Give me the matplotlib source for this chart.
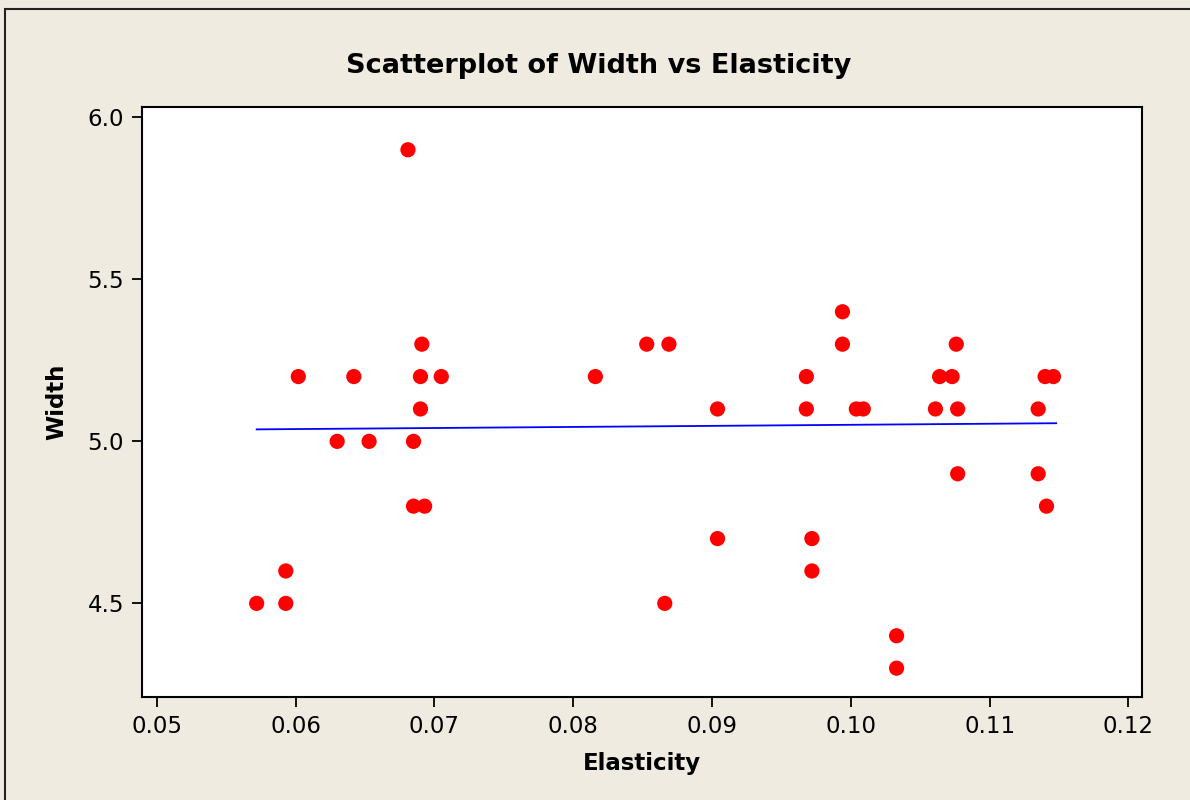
import numpy as np
import matplotlib.pyplot as plt
from matplotlib.patches import Rectangle

# Elasticity / Width values
elasticity = [0.0572, 0.0593, 0.0593, 0.0602, 0.0630, 0.0642, 0.0653, 0.0681,
              0.0685, 0.0685, 0.0693, 0.0690, 0.0690, 0.0691, 0.0705, 0.0816,
              0.0853, 0.0869, 0.0866, 0.0904, 0.0904, 0.0968, 0.0968, 0.0972,
              0.0972, 0.0994, 0.0994, 0.1004, 0.1009, 0.1033, 0.1033, 0.1061,
              0.1064, 0.1073, 0.1076, 0.1077, 0.1077, 0.1135, 0.1135, 0.1141,
              0.1140, 0.1146]
width = [4.5, 4.6, 4.5, 5.2, 5.0, 5.2, 5.0, 5.9,
         5.0, 4.8, 4.8, 5.1, 5.2, 5.3, 5.2, 5.2,
         5.3, 5.3, 4.5, 5.1, 4.7, 5.2, 5.1, 4.7,
         4.6, 5.4, 5.3, 5.1, 5.1, 4.4, 4.3, 5.1,
         5.2, 5.2, 5.3, 5.1, 4.9, 5.1, 4.9, 4.8,
         5.2, 5.2]
# regression line end points as drawn in the chart
fit_x = [0.0572, 0.1148]
fit_y = [5.037, 5.056]
xticks = [0.05, 0.06, 0.07, 0.08, 0.09, 0.10, 0.11, 0.12]
yticks = [4.5, 5.0, 5.5, 6.0]

bg = '#efebe1'
font = 'DejaVu Sans'

fig = plt.figure(figsize=(11.9, 8), dpi=100, facecolor=bg)
fig.patches.append(Rectangle((5/1190, -0.01), 1.2, 1 - 9/800 + 0.01, transform=fig.transFigure,
                             fill=False, edgecolor='#222222', lw=1.5))
ax = fig.add_axes([142/1190, 103/800, 1000/1190, 590/800])
ax.set_facecolor('white')

ax.scatter(elasticity, width, s=120, color='#ff0000', edgecolors='none', zorder=3)
ax.plot(fit_x, fit_y, color='#0000ff', lw=1.3, zorder=2)

ax.set_xlim(0.04894, 0.12098)
ax.set_ylim(4.211, 6.032)
ax.set_xticks(xticks)
ax.set_xticklabels(['%.2f' % v for v in xticks])
ax.set_yticks(yticks)
ax.set_yticklabels(['%.1f' % v for v in yticks])
ax.tick_params(direction='out', length=7, width=1.3, labelsize=16.5, pad=6)
for lab in ax.get_xticklabels() + ax.get_yticklabels():
    lab.set_family(font)
for sp in ax.spines.values():
    sp.set_linewidth(1.5)

fig.text(0.503, 1 - 66/800, 'Scatterplot of Width vs Elasticity', fontsize=19.5,
         fontweight='bold', family=font, ha='center', va='center')
ax.set_xlabel('Elasticity', fontsize=16.5, fontweight='bold', family=font, labelpad=10)
ax.set_ylabel('Width', fontsize=16.5, fontweight='bold', family=font, labelpad=14)

fig.savefig('out.png', dpi=100, facecolor=bg)
